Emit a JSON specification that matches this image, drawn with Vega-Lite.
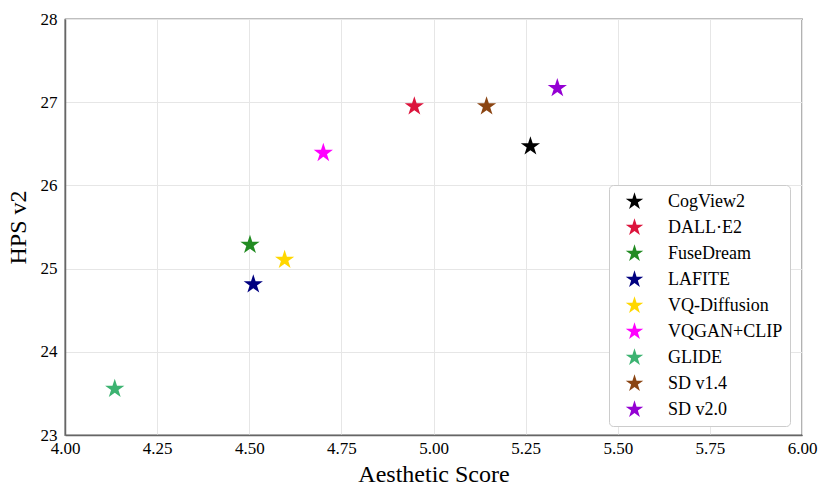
{
  "$schema": "https://vega.github.io/schema/vega-lite/v6.json",
  "autosize": "none",
  "width": 737,
  "height": 416,
  "padding": {"left": 65, "top": 19, "right": 28, "bottom": 63},
  "background": "white",
  "data": {
    "values": [
      {"model": "CogView2", "aesthetic": 5.263, "hps": 26.47},
      {"model": "DALL·E2", "aesthetic": 4.948, "hps": 26.95},
      {"model": "FuseDream", "aesthetic": 4.502, "hps": 25.285},
      {"model": "LAFITE", "aesthetic": 4.511, "hps": 24.81},
      {"model": "VQ-Diffusion", "aesthetic": 4.596, "hps": 25.105},
      {"model": "VQGAN+CLIP", "aesthetic": 4.701, "hps": 26.39},
      {"model": "GLIDE", "aesthetic": 4.135, "hps": 23.555},
      {"model": "SD v1.4", "aesthetic": 5.144, "hps": 26.95},
      {"model": "SD v2.0", "aesthetic": 5.336, "hps": 27.17}
    ]
  },
  "mark": {
    "type": "point",
    "filled": true,
    "opacity": 1,
    "size": 410,
    "shape": "M0,-1L0.2245,-0.309L0.951,-0.309L0.3633,0.118L0.588,0.809L0,0.382L-0.588,0.809L-0.3633,0.118L-0.951,-0.309L-0.2245,-0.309Z"
  },
  "encoding": {
    "x": {
      "field": "aesthetic",
      "type": "quantitative",
      "title": "Aesthetic Score",
      "scale": {"domain": [4, 6], "nice": false, "zero": false},
      "axis": {"values": [4, 4.25, 4.5, 4.75, 5, 5.25, 5.5, 5.75, 6], "format": ".2f", "labelPadding": 5, "titlePadding": 6}
    },
    "y": {
      "field": "hps",
      "type": "quantitative",
      "title": "HPS v2",
      "scale": {"domain": [23, 28], "nice": false, "zero": false},
      "axis": {"values": [23, 24, 25, 26, 27, 28], "labelPadding": 8, "titlePadding": 10, "labelDy": 2}
    },
    "color": {
      "field": "model",
      "type": "nominal",
      "scale": {
        "domain": ["CogView2", "DALL·E2", "FuseDream", "LAFITE", "VQ-Diffusion", "VQGAN+CLIP", "GLIDE", "SD v1.4", "SD v2.0"],
        "range": ["#000000", "#DC143C", "#228B22", "#000080", "#FFD700", "#FF00FF", "#3CB371", "#8B4513", "#9400D3"]
      },
      "legend": {
        "title": null,
        "orient": "none",
        "legendX": 544,
        "legendY": 166,
        "padding": 7,
        "symbolOffset": 9,
        "labelOffset": 24,
        "symbolSize": 340,
        "symbolStrokeWidth": 0,
        "symbolType": "M0,-1L0.2245,-0.309L0.951,-0.309L0.3633,0.118L0.588,0.809L0,0.382L-0.588,0.809L-0.3633,0.118L-0.951,-0.309L-0.2245,-0.309Z",
        "labelFontSize": 18,
        "labelFont": "Liberation Serif",
        "labelColor": "#000000",
        "rowPadding": 7,
        "fillColor": "white",
        "strokeColor": "#cccccc",
        "cornerRadius": 4,
        "labelExpr": "datum.label + '  '"
      }
    }
  },
  "config": {
    "font": "Liberation Serif",
    "view": {"stroke": "#000000", "strokeWidth": 1.2},
    "axis": {
      "labelFont": "Liberation Serif",
      "titleFont": "Liberation Serif",
      "labelFontSize": 17,
      "titleFontSize": 24,
      "titleFontWeight": "normal",
      "labelColor": "#000000",
      "titleColor": "#000000",
      "ticks": false,
      "domainColor": "#666666",
      "domainWidth": 1.5,
      "gridColor": "#e6e6e6",
      "gridWidth": 1,
      "labelFlush": false,
      "labelOverlap": false
    }
  }
}
